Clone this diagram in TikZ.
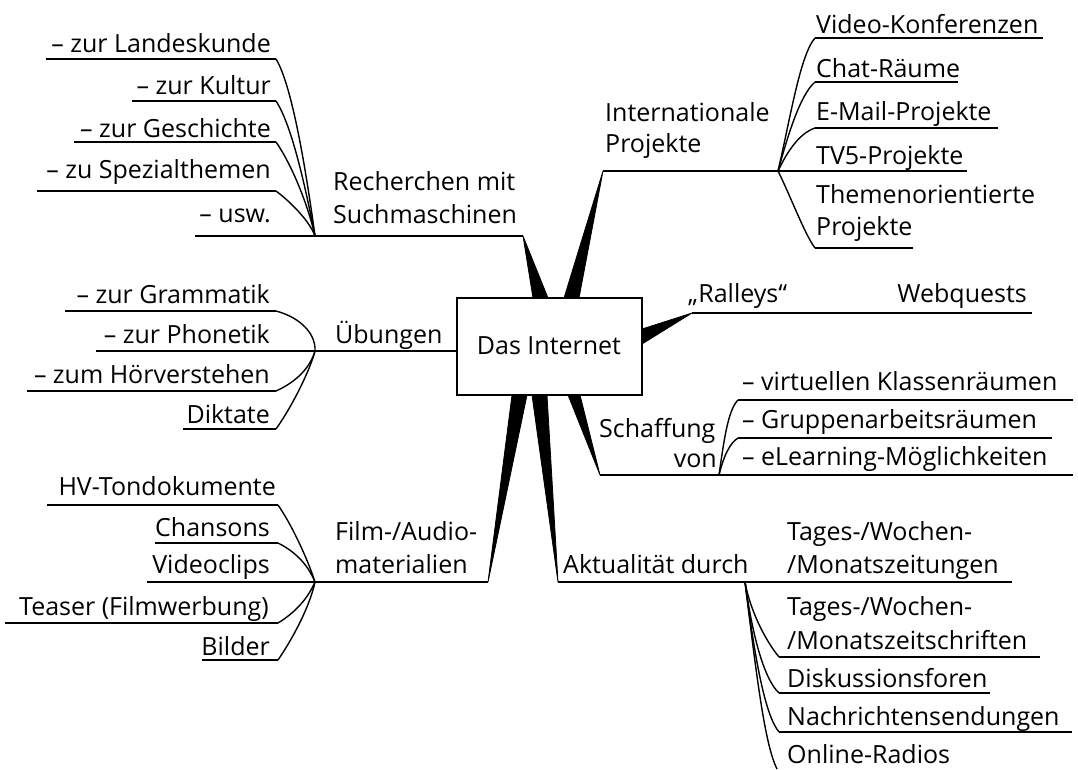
\documentclass[tikz,border=0pt]{standalone}
\usepackage{fontspec}
\setmainfont{Open Sans}
\begin{document}
\begin{tikzpicture}[x=1pt,y=-1pt,
  lbl/.style={inner sep=0pt, font=\fontsize{25}{25}\selectfont},
  lw/.style={lbl,anchor=base west},
  le/.style={lbl,anchor=base east},
  ln/.style={line width=1.7pt},
  br/.style={line width=1.4pt},
  wedge/.style={fill=black, draw=black, line width=0.8pt, line join=round}]
\useasboundingbox (0,0) rectangle (1078,769);

% ---------- coordinates ----------
% Recherchen
\coordinate (rL) at (195,236); \coordinate (rF) at (315,236); \coordinate (rT) at (523,236);
\coordinate (rB1) at (533,298); \coordinate (rB2) at (548,298);
\coordinate (r1a) at (46,59);  \coordinate (r1b) at (276,59);
\coordinate (r2a) at (132,101); \coordinate (r2b) at (276,101);
\coordinate (r3a) at (74,142); \coordinate (r3b) at (276,142);
\coordinate (r4a) at (37,191); \coordinate (r4b) at (276,191);
% Internationale
\coordinate (iT) at (603,171); \coordinate (iF) at (778,171); \coordinate (iE) at (967,171);
\coordinate (iB1) at (564,298); \coordinate (iB2) at (579,298);
\coordinate (i1a) at (815,38);  \coordinate (i1b) at (1043,38);
\coordinate (i2a) at (815,82);  \coordinate (i2b) at (958,82);
\coordinate (i3a) at (815,128); \coordinate (i3b) at (998,128);
\coordinate (i5a) at (815,248); \coordinate (i5b) at (913,248);
% Ralleys
\coordinate (aT) at (692,313); \coordinate (aE) at (1032,313);
\coordinate (aB1) at (642,329); \coordinate (aB2) at (642,344);
% Uebungen
\coordinate (uL) at (96,351); \coordinate (uF) at (315,351); \coordinate (uE) at (457,351);
\coordinate (u1a) at (65,311);  \coordinate (u1b) at (276,311);
\coordinate (u3a) at (27,391);  \coordinate (u3b) at (276,391);
\coordinate (u4a) at (183,429); \coordinate (u4b) at (276,429);
% Film
\coordinate (fL) at (147,582); \coordinate (fF) at (315,582); \coordinate (fT) at (488,582);
\coordinate (fB1) at (512,395); \coordinate (fB2) at (527,395);
\coordinate (f1a) at (47,505);  \coordinate (f1b) at (278,505);
\coordinate (f2a) at (155,543); \coordinate (f2b) at (278,543);
\coordinate (f4a) at (5,623);   \coordinate (f4b) at (278,623);
\coordinate (f5a) at (202,660); \coordinate (f5b) at (278,660);
% Aktualitaet
\coordinate (kT) at (558,582); \coordinate (kF) at (745,582); \coordinate (kE) at (1012,582);
\coordinate (kB1) at (532,395); \coordinate (kB2) at (547,395);
\coordinate (k2a) at (779,657); \coordinate (k2b) at (1040,657);
\coordinate (k3a) at (779,693); \coordinate (k3b) at (990,693);
\coordinate (k4a) at (779,732); \coordinate (k4b) at (1072,732);
\coordinate (k5a) at (777,769);
% Schaffung
\coordinate (sT) at (600,475); \coordinate (sF) at (719,475); \coordinate (sE) at (1073,475);
\coordinate (sB1) at (568,395); \coordinate (sB2) at (580,395);
\coordinate (s1a) at (738,400); \coordinate (s1b) at (1073,400);
\coordinate (s2a) at (738,438); \coordinate (s2b) at (1052,438);

% ---------- wedges ----------
\draw[wedge] (rT) -- (rB1) -- (rB2) -- cycle;
\draw[wedge] (iT) -- (iB1) -- (iB2) -- cycle;
\draw[wedge] (aT) -- (aB1) -- (aB2) -- cycle;
\draw[wedge] (fT) -- (fB1) -- (fB2) -- cycle;
\draw[wedge] (kT) -- (kB1) -- (kB2) -- cycle;
\draw[wedge] (sT) -- (sB1) -- (sB2) -- cycle;

% ---------- main lines ----------
\draw[ln] (rL) -- (rT);
\draw[ln] (iT) -- (iE);
\draw[ln] (aT) -- (aE);
\draw[ln] (uL) -- (uE);
\draw[ln] (fL) -- (fT);
\draw[ln] (kT) -- (kE);
\draw[ln] (sT) -- (sE);

% ---------- sub branches ----------
\draw[ln] (r1a) -- (r1b); \draw[br] (r1b) .. controls (292,85) and (306,170) .. (rF);
\draw[ln] (r2a) -- (r2b); \draw[br] (r2b) .. controls (292,125) and (306,190) .. (rF);
\draw[ln] (r3a) -- (r3b); \draw[br] (r3b) .. controls (292,165) and (308,205) .. (rF);
\draw[ln] (r4a) -- (r4b); \draw[br] (r4b) .. controls (292,203) and (310,222) .. (rF);

\draw[ln] (i1a) -- (i1b); \draw[br] (iF) .. controls (790,120) and (800,55) .. (i1a);
\draw[ln] (i2a) -- (i2b); \draw[br] (iF) .. controls (788,135) and (800,95) .. (i2a);
\draw[ln] (i3a) -- (i3b); \draw[br] (iF) .. controls (788,150) and (800,133) .. (i3a);
\draw[ln] (i5a) -- (i5b); \draw[br] (iF) .. controls (790,195) and (805,235) .. (i5a);

\draw[ln] (u1a) -- (u1b); \draw[br] (u1b) .. controls (302,318) and (316,335) .. (uF);
\draw[ln] (u3a) -- (u3b); \draw[br] (u3b) .. controls (296,382) and (310,368) .. (uF);
\draw[ln] (u4a) -- (u4b); \draw[br] (u4b) .. controls (293,405) and (310,370) .. (uF);

\draw[ln] (f1a) -- (f1b); \draw[br] (f1b) .. controls (292,525) and (308,560) .. (fF);
\draw[ln] (f2a) -- (f2b); \draw[br] (f2b) .. controls (296,552) and (308,565) .. (fF);
\draw[ln] (f4a) -- (f4b); \draw[br] (f4b) .. controls (296,612) and (308,598) .. (fF);
\draw[ln] (f5a) -- (f5b); \draw[br] (f5b) .. controls (295,635) and (310,605) .. (fF);

\draw[ln] (k2a) -- (k2b); \draw[br] (kF) .. controls (750,610) and (765,640) .. (k2a);
\draw[ln] (k3a) -- (k3b); \draw[br] (kF) .. controls (753,640) and (765,680) .. (k3a);
\draw[ln] (k4a) -- (k4b); \draw[br] (kF) .. controls (755,660) and (765,715) .. (k4a);
\draw[br] (kF) .. controls (757,680) and (765,745) .. (k5a);

\draw[ln] (s1a) -- (s1b); \draw[br] (sF) .. controls (724,440) and (728,410) .. (s1a);
\draw[ln] (s2a) -- (s2b); \draw[br] (sF) .. controls (724,455) and (730,443) .. (s2a);

% ---------- centre box ----------
\node[draw, line width=1.8pt, fill=white, minimum width=185pt, minimum height=97pt, inner sep=0pt] (box) at (549.5,346.5) {};
\node[lbl, anchor=base] (internet) at (549,354) {Das Internet};

% ---------- labels ----------
\node[le] (tr1) at (271,52)  {– zur Landeskunde};
\node[le] (tr2) at (271,94)  {– zur Kultur};
\node[le] (tr3) at (271,137) {– zur Geschichte};
\node[le] (tr4) at (271,178) {– zu Spezialthemen};
\node[le] (tr5) at (271,222) {– usw.};
\node[lw] (tr0a) at (333,190) {Recherchen mit};
\node[lw] (tr0b) at (333,223) {Suchmaschinen};

\node[lw] (ti0a) at (605,121) {Internationale};
\node[lw] (ti0b) at (605,152) {Projekte};
\node[lw] (ti1) at (816,33)  {Video-Konferenzen};
\node[lw] (ti2) at (816,77)  {Chat-Räume};
\node[lw] (ti3) at (816,120) {E-Mail-Projekte};
\node[lw] (ti4) at (816,164) {TV5-Projekte};
\node[lw] (ti5a) at (816,203) {Themenorientierte};
\node[lw] (ti5b) at (816,235) {Projekte};

\node[lw] (ta1) at (688,302) {„Ralleys“};
\node[le] (ta2) at (1027,302) {Webquests};

\node[le] (tu1) at (270,303) {– zur Grammatik};
\node[le] (tu2) at (270,343) {– zur Phonetik};
\node[le] (tu3) at (270,383) {– zum Hörverstehen};
\node[le] (tu4) at (270,423) {Diktate};
\node[lw] (tu0) at (335,343) {Übungen};

\node[le] (tf1) at (276,495) {HV-Tondokumente};
\node[le] (tf2) at (270,536) {Chansons};
\node[le] (tf3) at (270,573) {Videoclips};
\node[le] (tf4) at (269,615) {Teaser (Filmwerbung)};
\node[le] (tf5) at (270,655) {Bilder};
\node[lw] (tf0a) at (335,540) {Film-/Audio-};
\node[lw] (tf0b) at (335,573) {materialien};

\node[lw] (tk0) at (563,573) {Aktualität durch};
\node[lw] (tk1a) at (787,540) {Tages-/Wochen-};
\node[lw] (tk1b) at (787,573) {/Monatszeitungen};
\node[lw] (tk2a) at (787,615) {Tages-/Wochen-};
\node[lw] (tk2b) at (787,649) {/Monatszeitschriften};
\node[lw] (tk3) at (787,687) {Diskussionsforen};
\node[lw] (tk4) at (787,725) {Nachrichtensendungen};
\node[lw] (tk5) at (787,763) {Online-Radios};

\node[lw] (ts0a) at (599,437) {Schaffung};
\node[le] (ts0b) at (717,467) {von};
\node[lw] (ts1) at (742,390) {– virtuellen Klassenräumen};
\node[lw] (ts2) at (742,428) {– Gruppenarbeitsräumen};
\node[lw] (ts3) at (742,465) {– eLearning-Möglichkeiten};
\end{tikzpicture}
\end{document}
